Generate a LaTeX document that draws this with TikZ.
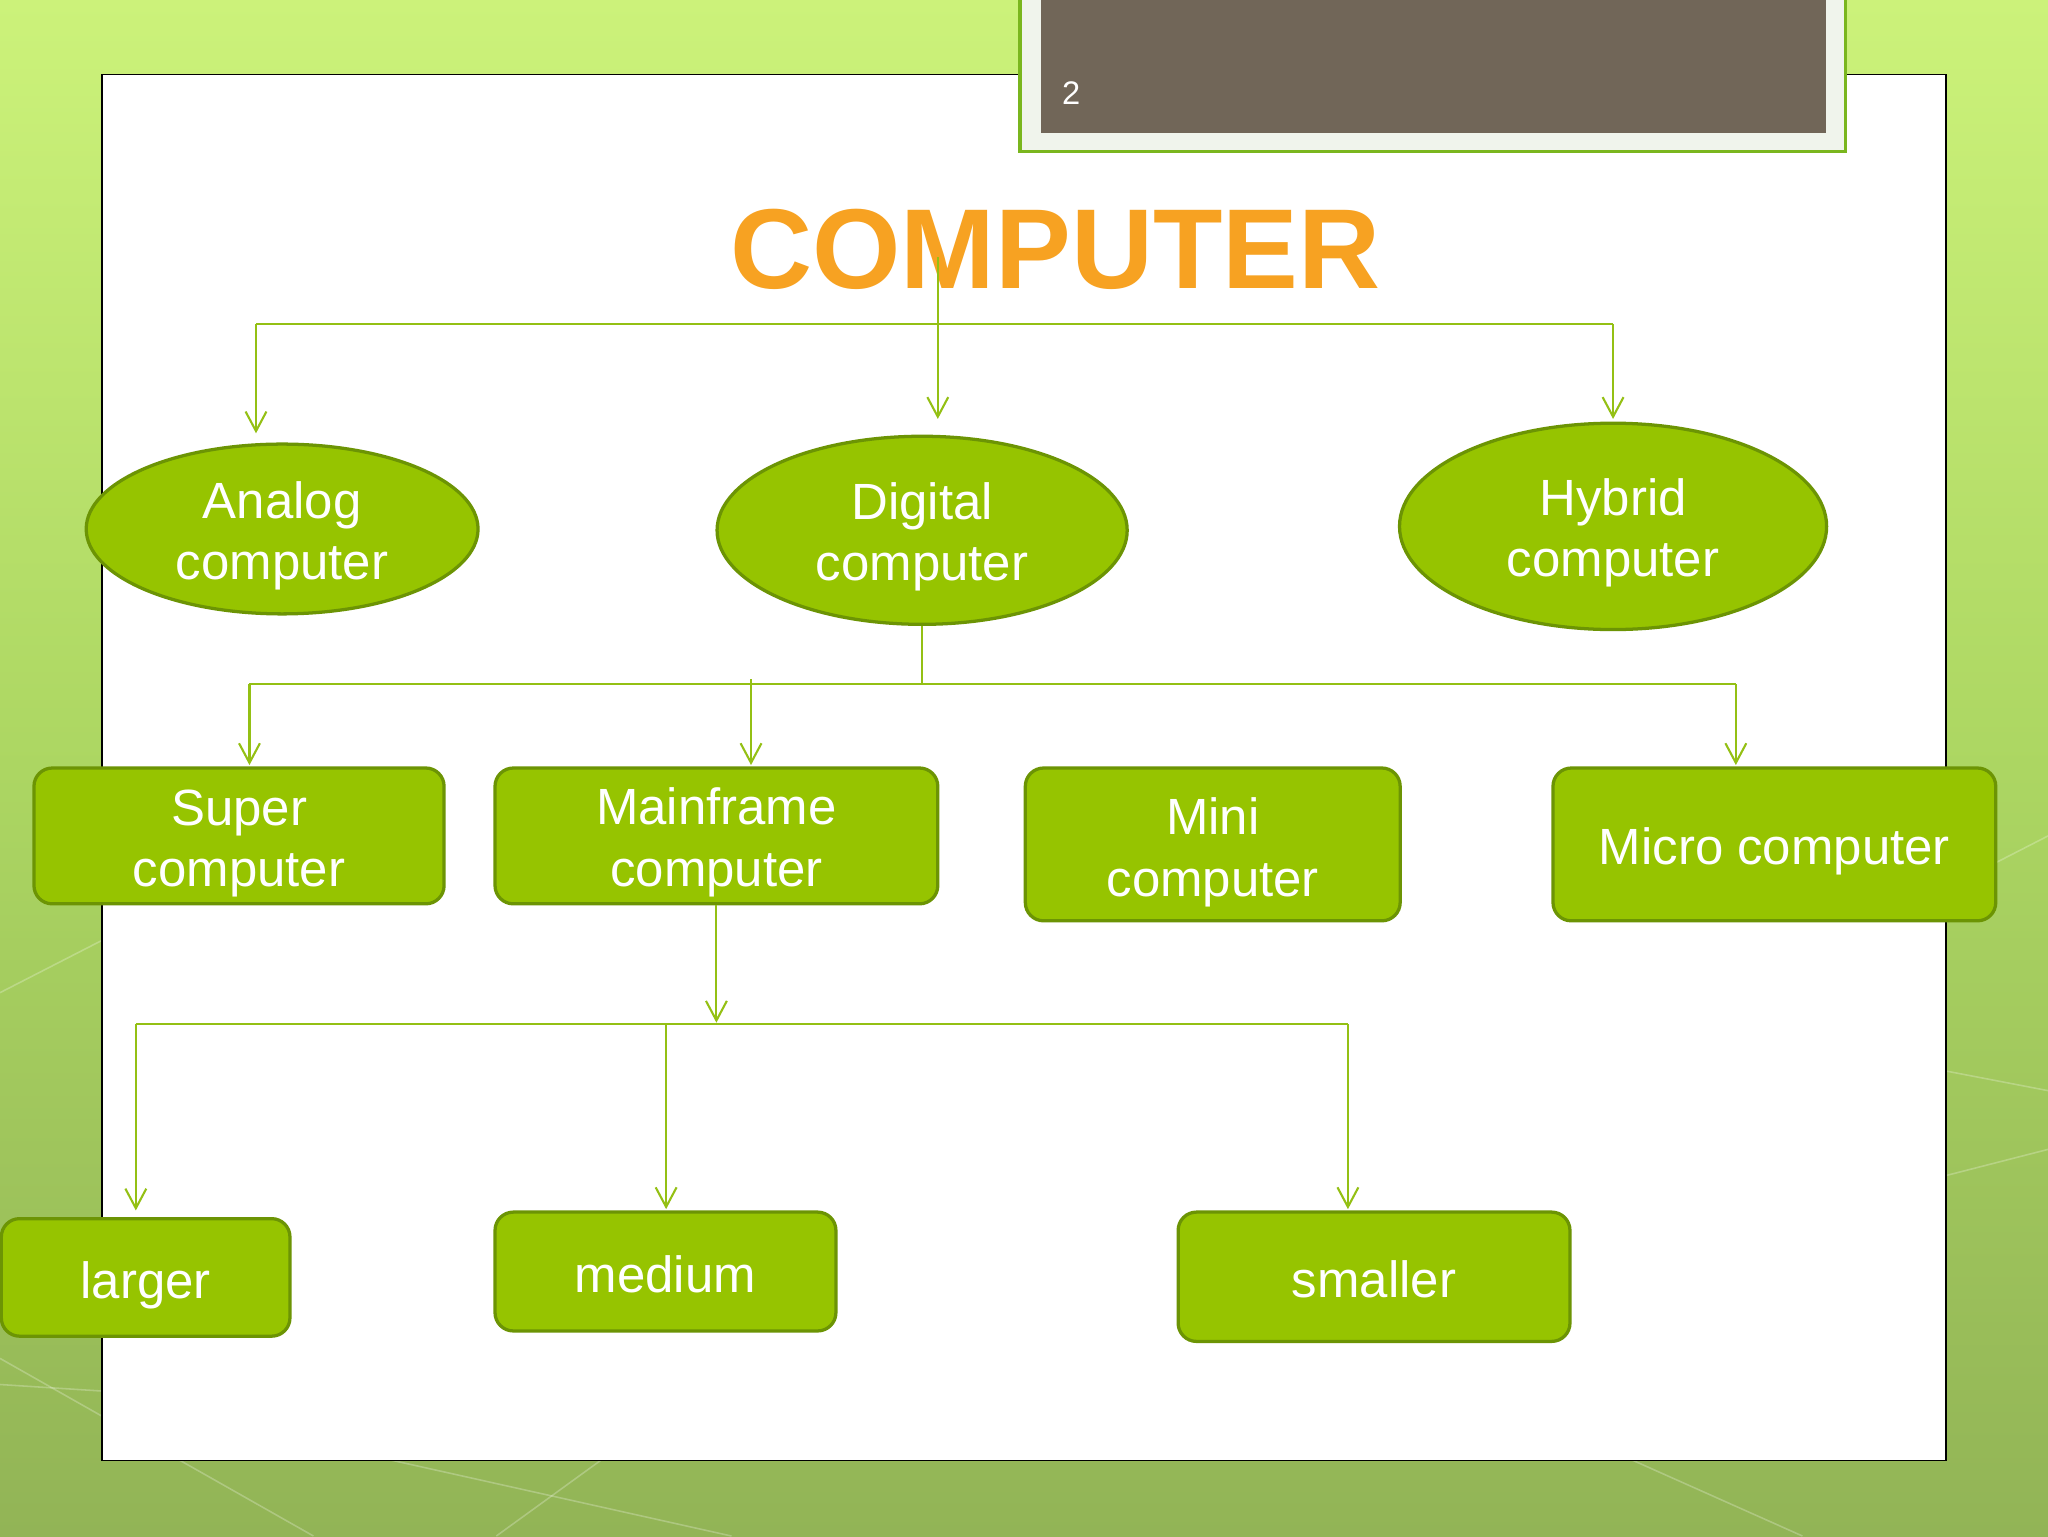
\documentclass[tikz,border=0pt]{standalone}
\usepackage{fontspec}
\setmainfont{Liberation Sans}
\usetikzlibrary{arrows.meta,shapes.geometric}
\definecolor{bgtop}{RGB}{204,242,122}
\definecolor{bgmid}{RGB}{172,214,98}
\definecolor{bgbot}{RGB}{146,180,86}
\definecolor{nodefill}{RGB}{150,196,0}
\definecolor{nodeline}{RGB}{108,148,4}
\definecolor{conn}{RGB}{148,192,20}
\definecolor{brownbox}{RGB}{113,102,88}
\definecolor{boxedge}{RGB}{122,182,30}
\definecolor{boxlight}{RGB}{240,244,236}
\definecolor{titleor}{RGB}{247,162,34}
\begin{document}
\begin{tikzpicture}[x=1pt,y=-1pt,
  nodetext/.style={text=white,font=\fontsize{39}{47}\selectfont,align=center,inner sep=0pt},
  oval/.style={ellipse,draw=nodeline,fill=nodefill,line width=2.5pt,inner sep=0pt},
  rbox/.style={rectangle,rounded corners=14pt,draw=nodeline,fill=nodefill,line width=2.5pt,inner sep=0pt},
  txt/.style 2 args={label={[nodetext,yshift=#1]center:#2}},
  link/.style={draw=conn,line width=1.6pt},
  arr/.style={link,-{Straight Barb[length=15pt,width=16pt,line width=1.6pt]}},
  deco/.style={draw=white,opacity=0.25,line width=1.2pt}]
\useasboundingbox (0,0) rectangle (1568,1176);
% background
\shade[top color=bgtop,bottom color=bgbot,middle color=bgmid] (0,0) rectangle (1568,1176);
\draw[deco] (0,1040) -- (240,1176);
\draw[deco] (300,1118) -- (560,1176);
\draw[deco] (380,1176) -- (460,1118);
\draw[deco] (1250,1118) -- (1380,1176);
\draw[deco] (1490,900) -- (1568,880);
\draw[deco] (1490,680) -- (1568,640);
\draw[deco] (1490,820) -- (1568,835);
\draw[deco] (0,760) -- (78,720);
\draw[deco] (0,1060) -- (78,1065);
% slide panel
\draw[black,line width=1pt,fill=white] (78,57) rectangle (1490,1118);
% number box
\filldraw[fill=boxlight,draw=boxedge,line width=2.5pt] (781,-10) rectangle (1413,116);
\fill[brownbox] (797,-10) rectangle (1398,102);
\node[anchor=base west,text=white,font=\fontsize{25}{30}\selectfont,inner sep=0pt] (num) at (813,80) {2};
% title
\node[text=titleor,font=\fontsize{87}{100}\selectfont\bfseries,inner sep=0pt] (title) at (808,191) {COMPUTER};
% level 1 nodes
\node[oval,minimum width=300pt,minimum height=130pt,txt={-5pt}{Analog\\computer}] (ana) at (216,405) {};
\node[oval,minimum width=314pt,minimum height=144pt,txt={-5pt}{Digital\\computer}] (dig) at (706,406) {};
\node[oval,minimum width=327pt,minimum height=158pt,txt={-5pt}{Hybrid\\computer}] (hyb) at (1235,403) {};
% level 2 nodes
\node[rbox,minimum width=314pt,minimum height=104pt,txt={-6pt}{Super\\computer}] (sup) at (183,640) {};
\node[rbox,minimum width=339pt,minimum height=104pt,txt={-5pt}{Mainframe\\computer}] (mf) at (548.5,640) {};
\node[rbox,minimum width=287pt,minimum height=117pt,txt={-6pt}{Mini\\computer}] (mini) at (928.5,646.5) {};
\node[rbox,minimum width=339pt,minimum height=117pt,txt={-5pt}{Micro computer}] (mic) at (1358.5,646.5) {};
% level 3 nodes
\node[rbox,minimum width=221pt,minimum height=90pt,txt={-6pt}{larger}] (lar) at (111.5,978) {};
\node[rbox,minimum width=261pt,minimum height=91pt,txt={-2pt}{medium}] (med) at (509.5,973.5) {};
\node[rbox,minimum width=300pt,minimum height=99pt,txt={-2pt}{smaller}] (sma) at (1052,977.5) {};
% connectors level 1
\coordinate (t0) at (718,197);
\coordinate (h1L) at (196,248);
\coordinate (h1R) at (1235,248);
\draw[link] (h1L) -- (h1R);
\draw[arr,shorten >=12pt] (t0) -- (t0 |- dig.north);
\draw[arr,shorten >=7pt] (h1L) -- (h1L |- ana.north);
\draw[arr,shorten >=2pt] (h1R) -- (h1R |- hyb.north);
% connectors level 2
\coordinate (h2L) at (191,524);
\coordinate (h2M) at (575,524);
\coordinate (h2R) at (1329,524);
\draw[link] (dig.south) -- (dig.south |- h2L);
\draw[link] (h2L) -- (h2R);
\draw[arr,shorten >=1pt] (h2L) -- (h2L |- sup.north);
\draw[arr,shorten >=1pt] ([yshift=4pt]h2M) -- (h2M |- mf.north);
\draw[arr,shorten >=1pt] (h2R) -- (h2R |- mic.north);
% connectors level 3
\coordinate (h3L) at (104,784);
\coordinate (h3M) at (510,784);
\coordinate (h3R) at (1032,784);
\draw[arr,shorten >=1pt] (mf.south) -- (mf.south |- h3L);
\draw[link] (h3L) -- (h3R);
\draw[arr,shorten >=5pt] (h3L) -- (h3L |- lar.north);
\draw[arr,shorten >=1pt] (h3M) -- (h3M |- med.north);
\draw[arr,shorten >=1pt] (h3R) -- (h3R |- sma.north);
\end{tikzpicture}
\end{document}
